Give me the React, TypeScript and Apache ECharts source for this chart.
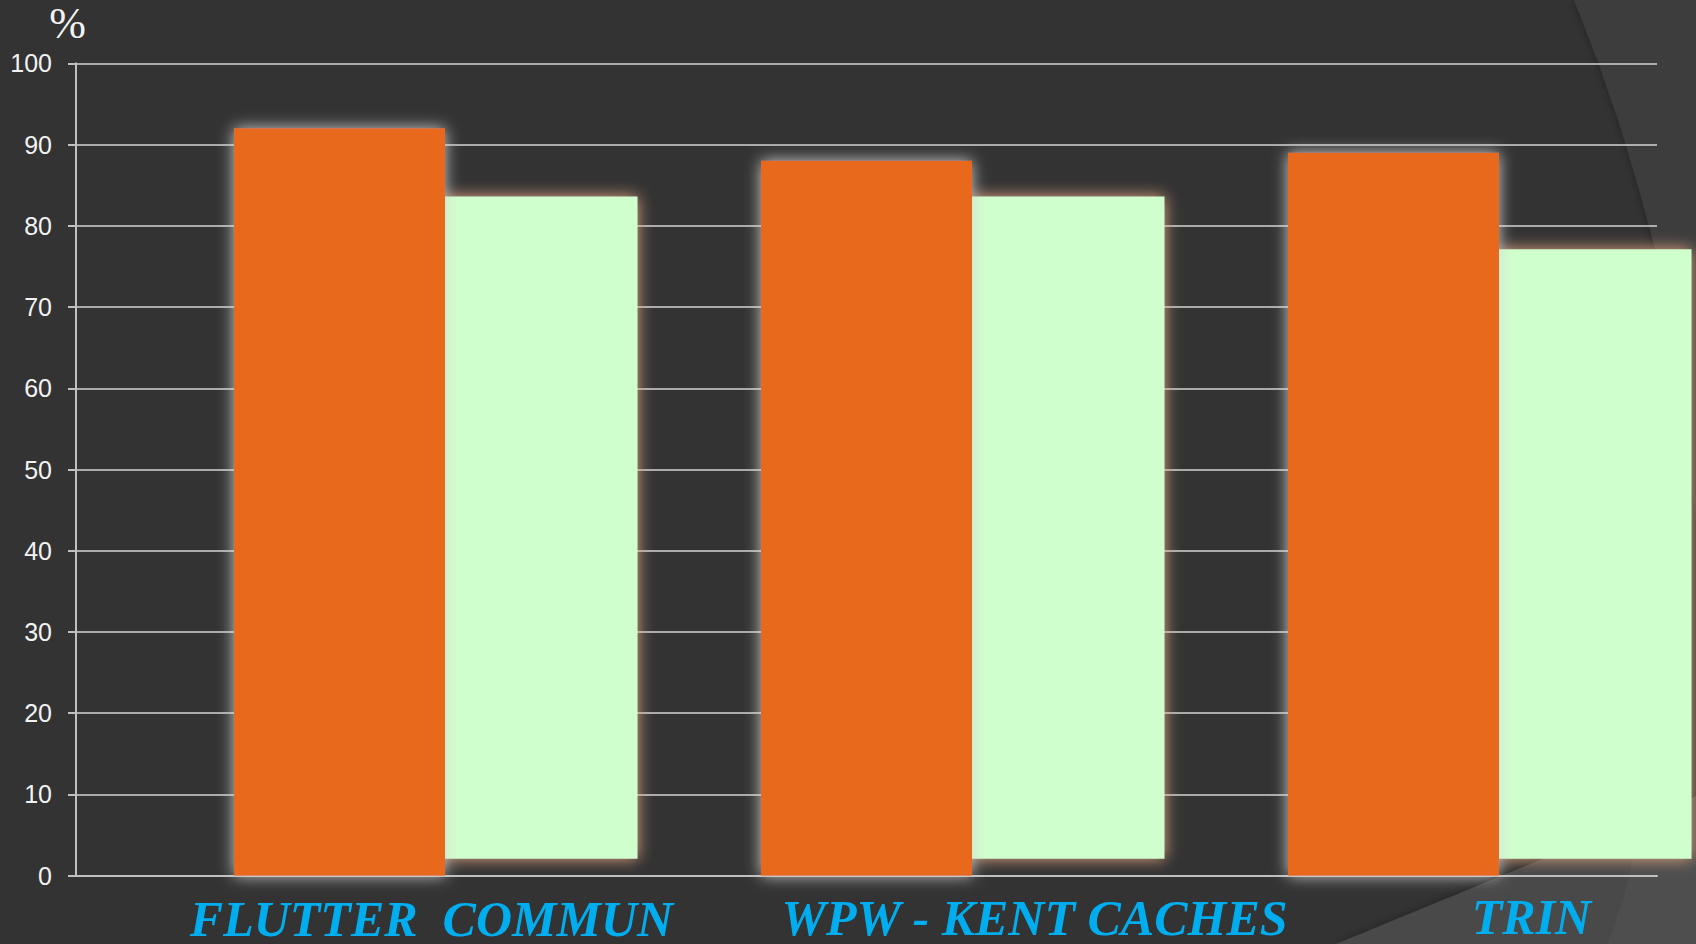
import React, { useEffect, useRef } from "react";
import * as echarts from "echarts";

// ---- data ----
const categories = ["FLUTTER  COMMUN", "WPW - KENT CACHES", "TRIN"];
const orangeValues = [92, 88, 89];
const greenTopValues = [83.6, 83.6, 77.1];
const greenBaseValues = [2.1, 2.1, 2.1];
const yMin = 0;
const yMax = 100;
const yInterval = 10;
const yAxisName = "%";

// ---- layout / style (not data) ----
const labelShiftLeft = [184, 336, 276];
const labelShiftTop = [4, 2, 0];

export default function App() {
  const ref = useRef<HTMLDivElement>(null);

  useEffect(() => {
    if (!ref.current) return;
    const chart = echarts.init(ref.current, null, { renderer: "svg" });

    const rich: Record<string, any> = {};
    categories.forEach((_, i) => {
      rich["c" + i] = {
        fontFamily: "'Liberation Serif', 'Times New Roman', serif",
        fontStyle: "italic",
        fontWeight: "bold",
        fontSize: 50,
        lineHeight: 28,
        color: "#00AEEF",
        padding: [labelShiftTop[i], 0, 0, labelShiftLeft[i]],
      };
    });

    const greenData = categories.map((_, i) => [i, greenTopValues[i], greenBaseValues[i]]);

    chart.setOption({
      animation: false,
      backgroundColor: "#333333",
      graphic: [
        {
          type: "polygon",
          z: -10,
          silent: true,
          shape: {
            points: [
              [1574, 0], [1598, 62], [1620, 126], [1638, 186], [1655, 249],
              [1670, 335], [1684, 430], [1696, 520], [1696, 0],
            ],
          },
          style: { fill: "#3c3c3c", shadowBlur: 10, shadowColor: "rgba(0,0,0,0.35)" },
        },
        {
          type: "polygon",
          z: -9,
          silent: true,
          shape: { points: [[1336, 944], [1696, 796], [1696, 944]] },
          style: { fill: "#484848", shadowBlur: 10, shadowColor: "rgba(0,0,0,0.35)" },
        },
        {
          type: "polygon",
          z: -8,
          silent: true,
          shape: { points: [[1608, 944], [1624, 896], [1643, 818], [1696, 797], [1696, 944]] },
          style: { fill: "#4e4e4e" },
        },
      ],
      grid: { left: 76, right: 39, top: 63.3, bottom: 68.3, outerBoundsMode: "none", containLabel: false },
      xAxis: {
        type: "category",
        data: categories,
        axisLine: { show: true, lineStyle: { color: "#c0c0c0", width: 2 } },
        axisTick: { show: false },
        splitLine: { show: false },
        axisLabel: {
          interval: 0,
          margin: 27,
          verticalAlign: "top",
          formatter: (value: string, index: number) => `{c${index}|${value}}`,
          rich,
        },
      },
      yAxis: {
        type: "value",
        min: yMin,
        max: yMax,
        interval: yInterval,
        name: yAxisName,
        nameLocation: "end",
        nameGap: 18,
        nameTextStyle: {
          fontFamily: "'Liberation Serif', 'Times New Roman', serif",
          fontSize: 44,
          color: "#f2f2f2",
          padding: [0, 17, 0, 0],
        },
        axisLine: { show: true, lineStyle: { color: "#c0c0c0", width: 2 } },
        axisTick: { show: true, length: 8, lineStyle: { color: "#c0c0c0", width: 2 } },
        axisLabel: {
          color: "#f2f2f2",
          fontSize: 25,
          fontFamily: "'Liberation Sans', Arial, sans-serif",
          margin: 24,
        },
        splitLine: { show: true, lineStyle: { color: "#d4d4d4", width: 1.5 } },
      },
      series: [
        {
          type: "bar",
          data: orangeValues,
          barWidth: 211,
          itemStyle: {
            color: "#E8691A",
            shadowBlur: 16,
            shadowColor: "rgba(215,215,215,0.95)",
          },
        },
        {
          type: "custom",
          clip: false,
          data: greenData,
          encode: { x: 0, y: 1 },
          renderItem: (params: any, api: any) => {
            const idx = api.value(0);
            const top = api.coord([idx, api.value(1)]);
            const base = api.coord([idx, api.value(2)]);
            const cx = top[0] + 199;
            return {
              type: "rect",
              shape: { x: cx - 99, y: top[1], width: 198, height: base[1] - top[1] },
              style: {
                fill: "#CFFFCC",
                shadowBlur: 16,
                shadowColor: "rgba(240,175,135,0.95)",
              },
            };
          },
        },
      ],
    });

    return () => chart.dispose();
  }, []);

  return (
    <div
      ref={ref}
      style={{ position: "fixed", left: 0, top: 0, width: 1696, height: 944 }}
    />
  );
}
